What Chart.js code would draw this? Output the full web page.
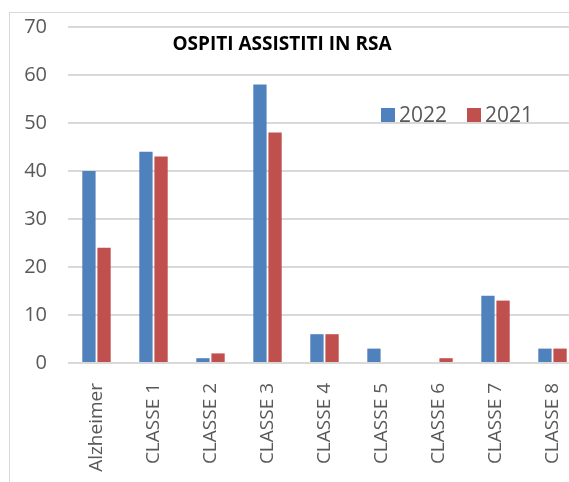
<!DOCTYPE html>
<html>
<head>
<meta charset="utf-8">
<script src="https://cdn.jsdelivr.net/npm/chart.js@4.4.0/dist/chart.umd.min.js"></script>
<style>
html,body{margin:0;padding:0;background:#fff;overflow:hidden;width:569px;height:482px}
#cornice{position:absolute;left:9px;top:12px;width:600px;height:500px;border-left:1px solid #d9d9d9;border-top:1px solid #d9d9d9}
#box{position:absolute;left:0;top:0;width:600px;height:482px}
</style>
</head>
<body>
<div id="cornice"></div>
<div id="box"><canvas id="grafico" width="600" height="482"></canvas></div>
<script>
var categorie=["Alzheimer","CLASSE 1","CLASSE 2","CLASSE 3","CLASSE 4","CLASSE 5","CLASSE 6","CLASSE 7","CLASSE 8"];
var anno2022=[40,44,1,58,6,3,0,14,3];
var anno2021=[24,43,2,48,6,0,1,13,3];
var tickY=[0,10,20,30,40,50,60,70];
var titolo="OSPITI ASSISTITI IN RSA";

// titolo e legenda stanno dentro l'area del grafico, come in Excel
var testiExtra={
	id:'testiExtra',
	afterDraw:function(chart){
		var c=chart.ctx;
		c.save();
		c.fillStyle='#000';
		c.font='bold 19px "Open Sans"';
		c.textAlign='center';
		c.textBaseline='middle';
		c.fillText(titolo,282,45);
		c.font='21px "Open Sans"';
		c.textAlign='left';
		chart.data.datasets.forEach(function(ds,i){
			var x=381+i*86;
			c.fillStyle=ds.backgroundColor;
			c.fillRect(x,108,14,14);
			c.fillStyle='#595959';
			c.fillText(ds.label,x+18,116);
		});
		c.restore();
	}
};

const ctx=document.getElementById('grafico').getContext('2d');
const grafico=new Chart(ctx,{
	type:'bar',
	data:{
		labels:categorie,
		datasets:[
			{label:'2022',data:anno2022,backgroundColor:'#4f81bd',borderColor:'#ffffff',borderWidth:0},
			{label:'2021',data:anno2021,backgroundColor:'#c0504d',borderColor:'#ffffff',borderWidth:0}
		]
	},
	options:{
		responsive:false,
		animation:false,
		categoryPercentage:0.53,
		barPercentage:0.88,
		layout:{padding:{left:0,right:19,top:27,bottom:0}},
		plugins:{legend:{display:false},title:{display:false},tooltip:{enabled:false}},
		scales:{
			x:{
				grid:{display:false},
				border:{display:false},
				ticks:{color:'#595959',font:{family:'Open Sans',size:19},minRotation:90,maxRotation:90,autoSkip:false,padding:12},
				afterFit:function(s){s.height=119;s.paddingLeft=0;s.paddingRight=0;s.paddingTop=0;s.paddingBottom=0;}
			},
			y:{
				min:0,max:70,
				afterBuildTicks:function(s){s.ticks=tickY.map(function(v){return {value:v};});},
				grid:{color:'#d9d9d9',lineWidth:2,drawTicks:false},
				border:{display:false},
				ticks:{color:'#595959',font:{family:'Open Sans',size:20},padding:21},
				afterFit:function(s){s.width=68;s.paddingTop=0;s.paddingBottom=0;}
			}
		}
	},
	plugins:[testiExtra]
});
</script>
</body>
</html>
